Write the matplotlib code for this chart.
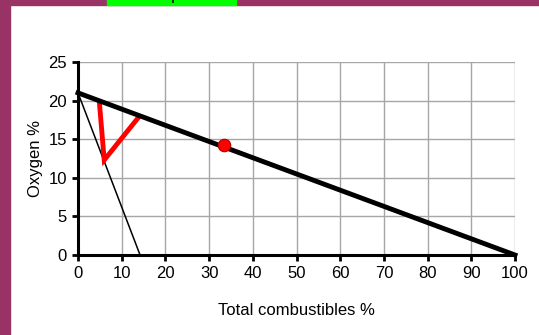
import matplotlib.pyplot as plt
from matplotlib.patches import Rectangle

plt.rcParams['font.family'] = ['Liberation Sans', 'DejaVu Sans']

# flammability limit line (air dilution) and stoichiometric line
air_x = [0, 100]
air_y = [21, 0]
stoich_x = [0, 14.2]
stoich_y = [21, 0]
# explosive triangle
tri_x = [4.9, 6.0, 13.8]
tri_y = [19.7, 12.3, 17.8]
# sample point
pt_x = [33.4]
pt_y = [14.2]

xticks = list(range(0, 101, 10))
yticks = list(range(0, 26, 5))

fig = plt.figure(figsize=(5.39, 3.35), dpi=100)
ax = fig.add_axes([78/539, 80/335, 437/539, 193/335])

ax.plot(stoich_x, stoich_y, color='black', lw=1.1, zorder=3)
ax.plot(tri_x, tri_y, color='#ff0000', lw=3.5, solid_joinstyle='miter', zorder=4)
ax.plot(air_x, air_y, color='black', lw=3.5, zorder=5, clip_on=False)
ax.plot(pt_x, pt_y, 'o', color='#ff0000', markersize=9, markeredgecolor='#b00000',
        markeredgewidth=0.8, zorder=6)

ax.set_xlim(0, 100)
ax.set_ylim(0, 25)
ax.set_xticks(xticks)
ax.set_yticks(yticks)
ax.grid(True, color='#a6a6a6', lw=1)
ax.set_axisbelow(True)
for s in ['top', 'right']:
    ax.spines[s].set_visible(False)
for s in ['left', 'bottom']:
    ax.spines[s].set_linewidth(2.2)
    ax.spines[s].set_zorder(7)
ax.tick_params(direction='out', length=4, width=2, labelsize=12, pad=4)
ax.set_xlabel('Total combustibles %', fontsize=12, labelpad=16)
ax.set_ylabel('Oxygen %', fontsize=12, labelpad=4)

# frame decoration
purple = '#993366'
fig.patches.append(Rectangle((0, 0), 10/539, 1, transform=fig.transFigure,
                             color=purple, zorder=0))
fig.patches.append(Rectangle((0, 1 - 5/335), 1, 5/335, transform=fig.transFigure,
                             color=purple, zorder=0))
fig.patches.append(Rectangle((107/539, 1 - 5/335), 129/539, 5/335 + 0.01,
                             transform=fig.transFigure, color='#00ff00', zorder=1))
fig.text(172/539, 1 - 3/335, 'Not Explosive', ha='center', va='bottom',
         fontsize=12, color='black')

fig.savefig('out.png', dpi=100)
